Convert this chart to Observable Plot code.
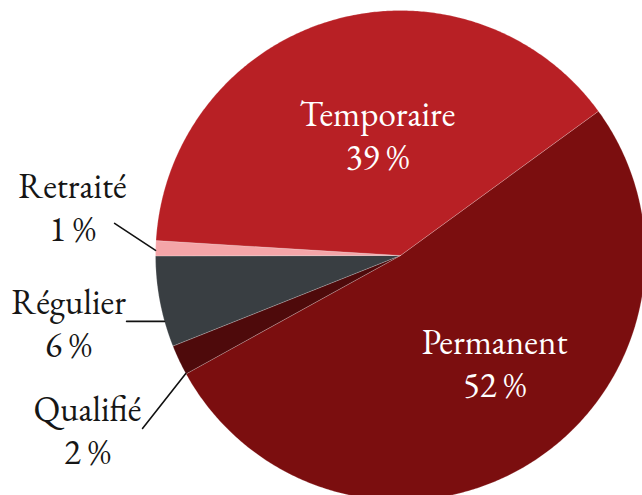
<!DOCTYPE html>
<html>
<head>
<meta charset="utf-8">
<script src="https://cdn.jsdelivr.net/npm/d3@7"></script>
<script src="https://cdn.jsdelivr.net/npm/@observablehq/plot@0.6"></script>
<style>
  html, body { margin: 0; padding: 0; background: #ffffff; }
  #chart svg { display: block; }
</style>
</head>
<body>
<div id="chart"></div>
<script>
// ---- Data ----
const categories = ["Permanent", "Qualifié", "Régulier", "Retraité", "Temporaire"];
const values = [52, 2, 6, 1, 39];

// ---- Styling / layout ----
const colors = ["#7b0e0f", "#4e0a0b", "#393e42", "#f4a5a8", "#b82025"];
const startAngle = 53.9;       // degrees clockwise from 12 o'clock
const R = 245;                 // pie radius in pixels
const W = 642, H = 495;
const CX = 400, CY = 255;      // pie centre in pixels
const FONT = "EB Garamond";

// label anchors in pie-radius units (x right, y up)
const labelSpots = {
  "Temporaire": [-0.094, 0.498, "inside"],
  "Permanent":  [0.384, -0.435, "inside"],
  "Retraité":   [-1.339, 0.203, "outside"],
  "Régulier":   [-1.355, -0.269, "outside"],
  "Qualifié":   [-1.278, -0.706, "outside"]
};
// leader lines: start point (radius units) -> pie edge at angle (deg)
const leaderSpots = {
  "Retraité": [-1.167, 0.131, 271.2],
  "Régulier": [-1.118, -0.269, 254.4],
  "Qualifié": [-1.053, -0.706, 241.2]
};

// ---- Geometry ----
const total = d3.sum(values);
const pt = (deg, r) => { const t = deg * Math.PI / 180; return {x: r * Math.sin(t), y: r * Math.cos(t)}; };
let acc = startAngle;
const slices = categories.map((c, i) => {
  const a0 = acc, a1 = acc + values[i] / total * 360;
  acc = a1;
  return {name: c, value: values[i], a0, a1};
});
const poly = slices.flatMap(s => {
  const n = Math.max(4, Math.ceil((s.a1 - s.a0) / 0.5));
  const pts = [{name: s.name, x: 0, y: 0}];
  for (let k = 0; k <= n; k++) pts.push({name: s.name, ...pt(s.a0 + (s.a1 - s.a0) * k / n, 1)});
  pts.push({name: s.name, x: 0, y: 0});
  return pts;
});
const labels = slices.map(s => ({
  name: s.name,
  text: `${s.name}\n${s.value} %`,
  x: labelSpots[s.name][0],
  y: labelSpots[s.name][1],
  where: labelSpots[s.name][2]
}));
const leaders = Object.entries(leaderSpots).flatMap(([name, [x, y, a]]) => [
  {name, x, y},
  {name, ...pt(a, 1)}
]);

const chart = Plot.plot({
  width: W,
  height: H,
  margin: 0,
  x: {domain: [-CX / R, (W - CX) / R], range: [0, W], axis: null},
  y: {domain: [-(H - CY) / R, CY / R], range: [H, 0], axis: null},
  color: {domain: categories, range: colors},
  marks: [
    Plot.line(poly, {x: "x", y: "y", z: "name", fill: "name", stroke: "#ffffff", strokeWidth: 0.6, strokeOpacity: 0.35, strokeLinejoin: "round", curve: "linear"}),
    Plot.line(leaders, {x: "x", y: "y", z: "name", stroke: "#111111", strokeWidth: 1.6, curve: "linear"}),
    Plot.text(labels.filter(d => d.where === "inside"), {x: "x", y: "y", text: "text", fill: "#ffffff", fontSize: 35, fontFamily: FONT, lineHeight: 1.23, textAnchor: "middle"}),
    Plot.text(labels.filter(d => d.where === "outside"), {x: "x", y: "y", text: "text", fill: "#161616", fontSize: 35, fontFamily: FONT, lineHeight: 1.23, textAnchor: "middle"})
  ]
});
document.getElementById("chart").appendChild(chart);
</script>
</body>
</html>
